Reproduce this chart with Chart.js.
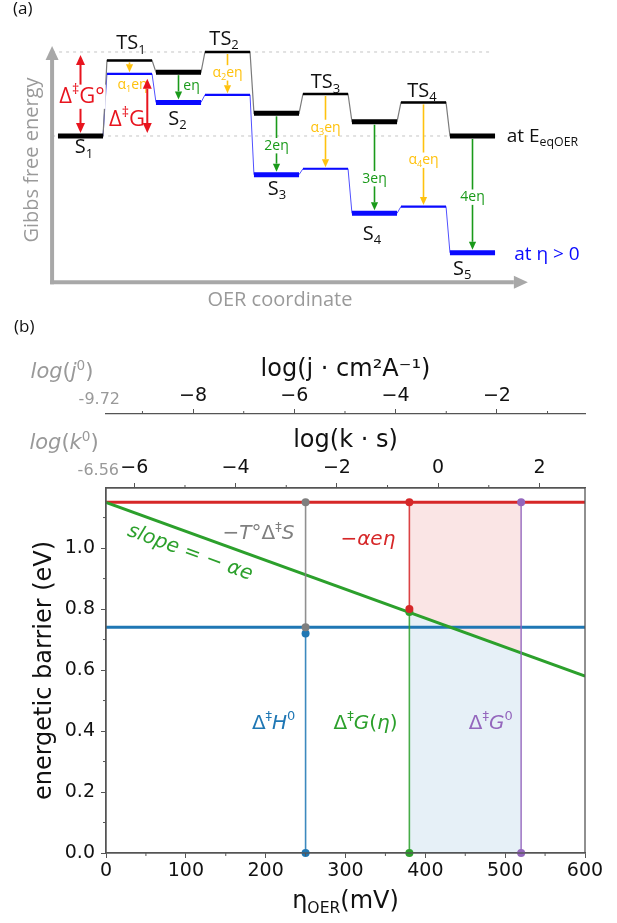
<!DOCTYPE html>
<html>
<head>
<meta charset="utf-8">
<script src="https://cdn.jsdelivr.net/npm/chart.js@4.4.0/dist/chart.umd.min.js"></script>
<style>
html, body { margin: 0; padding: 0; background: #fff; }
#wrapA { position: absolute; left: 0; top: 0; width: 617px; height: 315px; }
#wrapB { position: absolute; left: 0; top: 315px; width: 617px; height: 608px; }
</style>
</head>
<body>
<div id="wrapA"><canvas id="diagram"></canvas></div>
<div id="wrapB"><canvas id="barrier"></canvas></div>
<script>
// ---- (a) OER energy profile (arbitrary energy units, S1 = 0) ----
const states = ["S_{1}", "TS_{1}", "S_{2}", "TS_{2}", "S_{3}", "TS_{3}", "S_{4}", "TS_{4}", "S_{5}"];
const gEq  = [0, 0.90, 0.76, 1.00, 0.27, 0.50, 0.17, 0.40, 0];
const gEta = [0, 0.74, 0.40, 0.49, -0.46, -0.39, -0.92, -0.84, -1.39];
const shiftLabels = ["", "α_{1}eη", "eη", "α_{2}eη", "2eη", "α_{3}eη", "3eη", "α_{4}eη", "4eη"];

// ---- (b) energetic barrier vs overpotential ----
const etaTicks = [0, 100, 200, 300, 400, 500, 600];
const etaMinor = [50, 150, 250, 350, 450, 550];
const barrierTicks = [0, 0.2, 0.4, 0.6, 0.8, 1.0];
const barrierMinor = [0.1, 0.3, 0.5, 0.7, 0.9, 1.1];
const logKTicks = [-6, -4, -2, 0, 2];
const logKMinor = [-5, -3, -1, 1];
const logJTicks = [-8, -6, -4, -2];
const logJMinor = [-9, -7, -5, -3, -1];
const logK0 = -6.56, logKMax = 2.90;
const logJ0 = -9.72, logJMax = -0.26;

const dG0 = 1.15;                 // Δ‡G0 (eV)
const dH0 = 0.74;                 // Δ‡H0 (eV)
const slopeEta = [0, 600];
const slopeBarrier = [1.15, 0.58];
const fillEta = [380, 520];       // η(Δ‡G) .. η(Δ‡G0)
const fillBarrier = [0.79, 0.66];

const markerEta  = [250, 250, 380, 380, 520];
const markerLow  = [0.74, 0, 0.80, 0, 0];
const markerHigh = [1.15, 0.72, 1.15, 0.79, 1.15];

// colours
const RED = "#d62728", BLUE = "#1f77b4", GREEN = "#2ca02c", PURPLE = "#9467bd", GRAY = "#7f7f7f";
const markerColors = [GRAY, BLUE, RED, GREEN, PURPLE];
const AXIS = "#555";
const SANS = "Open Sans";
const MPL = "DejaVu Sans";

Chart.defaults.font.family = MPL;
Chart.defaults.color = "#111";

function parseRich(str) {
    const runs = [];
    const re = /([_^])\{([^}]*)\}/g;
    let last = 0, m;
    while ((m = re.exec(str))) {
        if (m.index > last) runs.push({ t: str.slice(last, m.index), lvl: 0 });
        runs.push({ t: m[2], lvl: m[1] === "^" ? 1 : -1 });
        last = re.lastIndex;
    }
    if (last < str.length) runs.push({ t: str.slice(last), lvl: 0 });
    // in italic (math) text, Greek capitals, digits and symbols stay upright
    const out = [];
    runs.forEach(r => {
        const parts = r.t.match(/[Δ0-9‡°()]+|[^Δ0-9‡°()]+/g) || [];
        parts.forEach(p => out.push({ t: p, lvl: r.lvl, up: /^[Δ0-9‡°()]/.test(p) }));
    });
    return out;
}

// text with simple _{sub} / ^{sup} markup
function richText(ctx, str, x, y, o) {
    const runs = parseRich(str);
    const fnt = r => (o.italic && !r.up ? "italic " : "") + r.size + "px '" + o.family + "'";
    let w = 0;
    runs.forEach(r => {
        r.size = r.lvl ? o.size * 0.65 : o.size;
        ctx.font = fnt(r);
        r.w = ctx.measureText(r.t).width;
        w += r.w;
    });
    let x0 = o.align === "center" ? x - w / 2 : o.align === "right" ? x - w : x;
    const base = o.middle ? y + o.size * 0.35 : y;
    if (o.bg) {
        ctx.fillStyle = o.bg;
        ctx.fillRect(x0 - 1, base - o.size * 0.85, w + 2, o.size * 1.1);
    }
    ctx.fillStyle = o.color;
    ctx.textAlign = "left";
    ctx.textBaseline = "alphabetic";
    runs.forEach(r => {
        ctx.font = fnt(r);
        const dy = r.lvl > 0 ? -o.size * 0.42 : r.lvl < 0 ? o.size * 0.22 : 0;
        ctx.fillText(r.t, x0, base + dy);
        x0 += r.w;
    });
    return w;
}

function arrow(ctx, x1, y1, x2, y2, color, lw, hl, hw, both) {
    ctx.save();
    ctx.strokeStyle = color;
    ctx.fillStyle = color;
    ctx.lineWidth = lw;
    const a = Math.atan2(y2 - y1, x2 - x1);
    const c = Math.cos(a), s = Math.sin(a);
    ctx.beginPath();
    ctx.moveTo(both ? x1 + hl * c : x1, both ? y1 + hl * s : y1);
    ctx.lineTo(x2 - hl * c, y2 - hl * s);
    ctx.stroke();
    const head = (tx, ty, cc, ss) => {
        ctx.beginPath();
        ctx.moveTo(tx, ty);
        ctx.lineTo(tx - hl * cc + hw * ss, ty - hl * ss - hw * cc);
        ctx.lineTo(tx - hl * cc - hw * ss, ty - hl * ss + hw * cc);
        ctx.closePath();
        ctx.fill();
    };
    head(x2, y2, c, s);
    if (both) head(x1, y1, -c, -s);
    ctx.restore();
}

// ================= (a) =================
const HW = 0.46;   // half width of a level, in step units
const isTS = i => i % 2 === 1;

function levelSegs(vals, keep) {
    const pts = [];
    vals.forEach((v, i) => {
        if (keep(i)) pts.push({ x: i - HW, y: v }, { x: i + HW, y: v }, { x: i, y: null });
    });
    return pts;
}
function pathPts(vals) {
    const pts = [];
    vals.forEach((v, i) => pts.push({ x: i - HW, y: v }, { x: i + HW, y: v }));
    return pts;
}

const YELLOW = "#ffc20e", DGREEN = "#1a9a1a", ARED = "#e8141e", LBLUE = "#0a0aff", FRAME = "#a8a8a8";

const diagramDecor = {
    id: "diagramDecor",
    beforeDatasetsDraw(chart) {
        const { ctx, scales: { x, y } } = chart;
        ctx.save();
        ctx.strokeStyle = "#c4c4c4";
        ctx.lineWidth = 1;
        ctx.setLineDash([3, 4]);
        ctx.beginPath();
        ctx.moveTo(x.getPixelForValue(-0.58), y.getPixelForValue(gEq[3]));
        ctx.lineTo(x.getPixelForValue(8.4), y.getPixelForValue(gEq[3]));
        ctx.moveTo(x.getPixelForValue(-0.58), y.getPixelForValue(gEq[0]));
        ctx.lineTo(x.getPixelForValue(7.5), y.getPixelForValue(gEq[0]));
        ctx.stroke();
        ctx.setLineDash([]);
        // axes of the diagram
        const cx = x.getPixelForValue(-0.58), cy = y.getPixelForValue(-1.74);
        arrow(ctx, cx, cy + 2, cx, y.getPixelForValue(1.07), FRAME, 4, 14, 6.5);
        arrow(ctx, cx - 2, cy, x.getPixelForValue(9.13), cy, FRAME, 4, 14, 6.5);
        ctx.restore();
    },
    afterDatasetsDraw(chart) {
        const { ctx, scales: { x, y } } = chart;
        ctx.save();
        // shift arrows from E_eq levels to η>0 levels
        for (let i = 1; i < states.length; i++) {
            const ts = isTS(i);
            const col = ts ? YELLOW : DGREEN;
            const px = x.getPixelForValue(i);
            const y1 = y.getPixelForValue(gEq[i]) + (ts ? 2 : 3);
            const y2 = y.getPixelForValue(gEta[i]) - (ts ? 1.5 : 3);
            arrow(ctx, px, y1, px, y2, col, 1.6, 8, 3.6);
        }
        const lbl = [null, 0.62, 0.60, 0.76, -0.107, 0.11, -0.50, -0.28, -0.72];
        for (let i = 1; i < states.length; i++) {
            const col = isTS(i) ? YELLOW : DGREEN;
            let px = x.getPixelForValue(i);
            const py = y.getPixelForValue(lbl[i]);
            const o = { size: 14, family: SANS, color: col, align: "center", middle: true };
            if (i === 1) px += 3;
            else if (i === 2) px += 13;
            else o.bg = "#fff";
            richText(ctx, shiftLabels[i], px, py, o);
        }
        // activation barriers
        const ax = x.getPixelForValue(0);
        arrow(ctx, ax, y.getPixelForValue(gEq[0]) - 3, ax, y.getPixelForValue(gEq[3]) + 3, ARED, 2, 10, 4.5, true);
        richText(ctx, "Δ^{‡}G°", x.getPixelForValue(0.03), y.getPixelForValue(0.389),
            { size: 22, family: SANS, color: ARED, align: "center", bg: "#fff" });
        const bx = x.getPixelForValue(1.363);
        arrow(ctx, bx, y.getPixelForValue(gEta[0]) - 3, bx, y.getPixelForValue(gEta[1]) + 5, ARED, 2, 10, 4.5, true);
        richText(ctx, "Δ^{‡}G", x.getPixelForValue(0.95), y.getPixelForValue(0.119),
            { size: 22, family: SANS, color: ARED, align: "center" });
        // state names
        const sx = [0.07, 1.03, 1.98, 2.93, 4.01, 5.0, 5.95, 6.97, 7.79];
        const sy = [-0.206, 1.032, 0.131, 1.083, -0.702, 0.568, -1.238, 0.468, -1.655];
        states.forEach((s, i) => {
            richText(ctx, s, x.getPixelForValue(sx[i]), y.getPixelForValue(sy[i]),
                { size: 20, family: SANS, color: "#111", align: "center" });
        });
        richText(ctx, "at E_{eqOER}", x.getPixelForValue(8.70), y.getPixelForValue(-0.07),
            { size: 19, family: SANS, color: "#111", align: "left" });
        richText(ctx, "at η > 0", x.getPixelForValue(8.85), y.getPixelForValue(-1.476),
            { size: 19, family: SANS, color: LBLUE, align: "left" });
        richText(ctx, "OER coordinate", x.getPixelForValue(4.07), y.getPixelForValue(-2.024),
            { size: 20, family: SANS, color: "#9a9a9a", align: "center" });
        ctx.save();
        ctx.translate(x.getPixelForValue(-1.01), y.getPixelForValue(-0.286));
        ctx.rotate(-Math.PI / 2);
        richText(ctx, "Gibbs free energy", 0, 0, { size: 20, family: SANS, color: "#9a9a9a", align: "center", middle: true });
        ctx.restore();
        richText(ctx, "(a)", x.getPixelForValue(-1.378), y.getPixelForValue(1.452),
            { size: 17, family: SANS, color: "#111", align: "left" });
        ctx.restore();
    }
};

function lineSet(data, color, width, order) {
    return { data, borderColor: color, borderWidth: width, pointRadius: 0, fill: false, order, spanGaps: false };
}

new Chart(document.getElementById("diagram"), {
    type: "line",
    data: {
        datasets: [
            lineSet(levelSegs(gEq, i => !isTS(i)), "#000", 5, 1),
            lineSet(levelSegs(gEq, i => isTS(i)), "#000", 2.5, 2),
            lineSet(levelSegs(gEta, i => i > 0 && !isTS(i)), LBLUE, 5, 3),
            lineSet(levelSegs(gEta, i => isTS(i)), LBLUE, 2.2, 4),
            lineSet(pathPts(gEq), "#7a7a7a", 1.2, 5),
            lineSet(pathPts(gEta), "#5050ff", 1, 6),
        ],
    },
    options: {
        responsive: true,
        maintainAspectRatio: false,
        animation: false,
        events: [],
        layout: { padding: 0 },
        scales: {
            x: { type: "linear", display: false, min: -1.643, max: 10.949 },
            y: { type: "linear", display: false, min: -2.131, max: 1.619 },
        },
        plugins: { legend: { display: false }, tooltip: { enabled: false } },
    },
    plugins: [diagramDecor],
});

// ================= (b) =================
const fmtMinus = v => (v < 0 ? "\u2212" + Math.abs(v) : String(v));
const TICK_FONT = { family: MPL, size: 19 };

const minorTicks = {
    id: "minorTicks",
    afterDraw(chart) {
        const { ctx, chartArea: a, scales } = chart;
        ctx.save();
        ctx.strokeStyle = AXIS;
        ctx.lineWidth = 1;
        ctx.beginPath();
        etaMinor.forEach(v => { const p = scales.x.getPixelForValue(v); ctx.moveTo(p, a.bottom); ctx.lineTo(p, a.bottom + 3); });
        barrierMinor.forEach(v => { const p = scales.y.getPixelForValue(v); ctx.moveTo(a.left, p); ctx.lineTo(a.left - 3, p); });
        logKMinor.forEach(v => { const p = scales.xk.getPixelForValue(v); ctx.moveTo(p, a.top); ctx.lineTo(p, a.top - 3); });
        logJMinor.forEach(v => { const p = scales.xj.getPixelForValue(v); ctx.moveTo(p, scales.xj.bottom); ctx.lineTo(p, scales.xj.bottom - 3); });
        ctx.stroke();
        ctx.lineWidth = 1.3;
        ctx.strokeRect(a.left, a.top, a.right - a.left, a.bottom - a.top);
        ctx.restore();
    }
};

const barrierText = {
    id: "barrierText",
    afterDatasetsDraw(chart) {
        const { ctx, scales: { x, y, xk, xj } } = chart;
        ctx.save();
        const math = (t, e, b, c) => richText(ctx, t, x.getPixelForValue(e), y.getPixelForValue(b),
            { size: 20, family: MPL, italic: true, color: c, align: "center", middle: true });
        math("−T°Δ^{‡}S", 191, 1.053, GRAY);
        math("−αeη", 328, 1.034, RED);
        math("Δ^{‡}H^{0}", 210, 0.43, BLUE);
        math("Δ^{‡}G(η)", 325, 0.43, GREEN);
        math("Δ^{‡}G^{0}", 482, 0.43, PURPLE);
        // label along the slope line
        const ang = Math.atan2(y.getPixelForValue(slopeBarrier[1]) - y.getPixelForValue(slopeBarrier[0]),
            x.getPixelForValue(slopeEta[1]) - x.getPixelForValue(slopeEta[0]));
        ctx.save();
        ctx.translate(x.getPixelForValue(106), y.getPixelForValue(0.99));
        ctx.rotate(ang);
        richText(ctx, "slope = − αe", 0, 0, { size: 20, family: MPL, italic: true, color: GREEN, align: "center", middle: true });
        ctx.restore();
        // x axis title with subscript
        richText(ctx, "η_{OER}(mV)", (x.left + x.right) / 2, 593, { size: 24, family: MPL, color: "#111", align: "center" });
        // reference values at the left end of the rate axes
        const g = "#999";
        richText(ctx, "log(j^{0})", 62, 56, { size: 21, family: MPL, italic: true, color: g, align: "center", middle: true });
        richText(ctx, "log(k^{0})", 64, 127, { size: 21, family: MPL, italic: true, color: g, align: "center", middle: true });
        richText(ctx, String(logJ0), xj.left + 14, 83, { size: 16, family: MPL, color: g, align: "right", middle: true });
        richText(ctx, String(logK0), xk.left + 13, 154, { size: 16, family: MPL, color: g, align: "right", middle: true });
        richText(ctx, "(b)", 14, 17, { size: 17, family: SANS, color: "#111", align: "left" });
        ctx.restore();
    }
};

const marker = (i) => ({
    data: [{ x: markerEta[i], y: markerLow[i] }, { x: markerEta[i], y: markerHigh[i] }],
    borderColor: markerColors[i] + "dd",
    borderWidth: 1.6,
    pointRadius: 4,
    pointBorderWidth: 0,
    pointBackgroundColor: markerColors[i],
    fill: false,
    clip: false,
    order: 1,
});

new Chart(document.getElementById("barrier"), {
    type: "line",
    data: {
        datasets: [
            { data: fillEta.map((e, i) => ({ x: e, y: fillBarrier[i] })), borderWidth: 0, pointRadius: 0,
              fill: "origin", backgroundColor: "rgba(31,119,180,0.11)", order: 9 },
            { data: fillEta.map((e, i) => ({ x: e, y: fillBarrier[i] })), borderWidth: 0, pointRadius: 0,
              fill: { value: dG0 }, backgroundColor: "rgba(214,39,40,0.12)", order: 8 },
            { data: slopeEta.map(e => ({ x: e, y: dG0 })), borderColor: RED, borderWidth: 3, pointRadius: 0, fill: false, order: 4 },
            { data: slopeEta.map(e => ({ x: e, y: dH0 })), borderColor: BLUE, borderWidth: 3, pointRadius: 0, fill: false, order: 4 },
            { data: slopeEta.map((e, i) => ({ x: e, y: slopeBarrier[i] })), borderColor: GREEN, borderWidth: 3, pointRadius: 0, fill: false, order: 3 },
            marker(0), marker(1), marker(2), marker(3), marker(4),
        ],
    },
    options: {
        responsive: true,
        maintainAspectRatio: false,
        animation: false,
        events: [],
        layout: { padding: { top: 40, right: 32, left: 0, bottom: 0 } },
        scales: {
            x: {
                type: "linear", position: "bottom", min: 0, max: 600,
                afterBuildTicks: s => { s.ticks = etaTicks.map(v => ({ value: v })); },
                afterFit: s => { s.height = 70; },
                ticks: { font: TICK_FONT, color: "#111", padding: 2, maxRotation: 0, autoSkip: false },
                grid: { drawOnChartArea: false, tickLength: 5, color: AXIS },
                border: { color: AXIS, width: 1.3 },
            },
            y: {
                type: "linear", position: "left", min: 0, max: 1.197,
                afterBuildTicks: s => { s.ticks = barrierTicks.map(v => ({ value: v })); },
                afterFit: s => { s.width = 106; },
                ticks: { font: TICK_FONT, color: "#111", padding: 6, callback: v => v.toFixed(1), autoSkip: false },
                grid: { drawOnChartArea: false, tickLength: 5, color: AXIS },
                border: { color: AXIS, width: 1.3 },
                title: { display: true, text: "energetic barrier (eV)", font: { family: MPL, size: 24 }, color: "#111", padding: { top: 30.6, bottom: 0 } },
            },
            xk: {
                type: "linear", position: "top", weight: 0, min: logK0, max: logKMax,
                afterBuildTicks: s => { s.ticks = logKTicks.map(v => ({ value: v })); },
                afterFit: s => { s.height = 74; },
                ticks: { font: TICK_FONT, color: "#111", padding: 4, maxRotation: 0, autoSkip: false, callback: fmtMinus },
                grid: { drawOnChartArea: false, tickLength: 5, color: AXIS },
                border: { color: AXIS, width: 1.3 },
                title: { display: true, text: "log(k · s)", font: { family: MPL, size: 24 }, color: "#111", padding: { top: 12, bottom: 0 } },
            },
            xj: {
                type: "linear", position: "top", weight: 1, min: logJ0, max: logJMax,
                afterBuildTicks: s => { s.ticks = logJTicks.map(v => ({ value: v })); },
                afterFit: s => { s.height = 59; },
                ticks: { font: TICK_FONT, color: "#111", padding: 2, maxRotation: 0, autoSkip: false, callback: fmtMinus },
                grid: { drawOnChartArea: false, tickLength: 5, color: AXIS },
                border: { color: AXIS, width: 1.3 },
                title: { display: true, text: "log(j · cm²A⁻¹)", font: { family: MPL, size: 24 }, color: "#111", padding: { top: 0, bottom: 0 } },
            },
        },
        plugins: { legend: { display: false }, tooltip: { enabled: false } },
    },
    plugins: [minorTicks, barrierText],
});
</script>
</body>
</html>
